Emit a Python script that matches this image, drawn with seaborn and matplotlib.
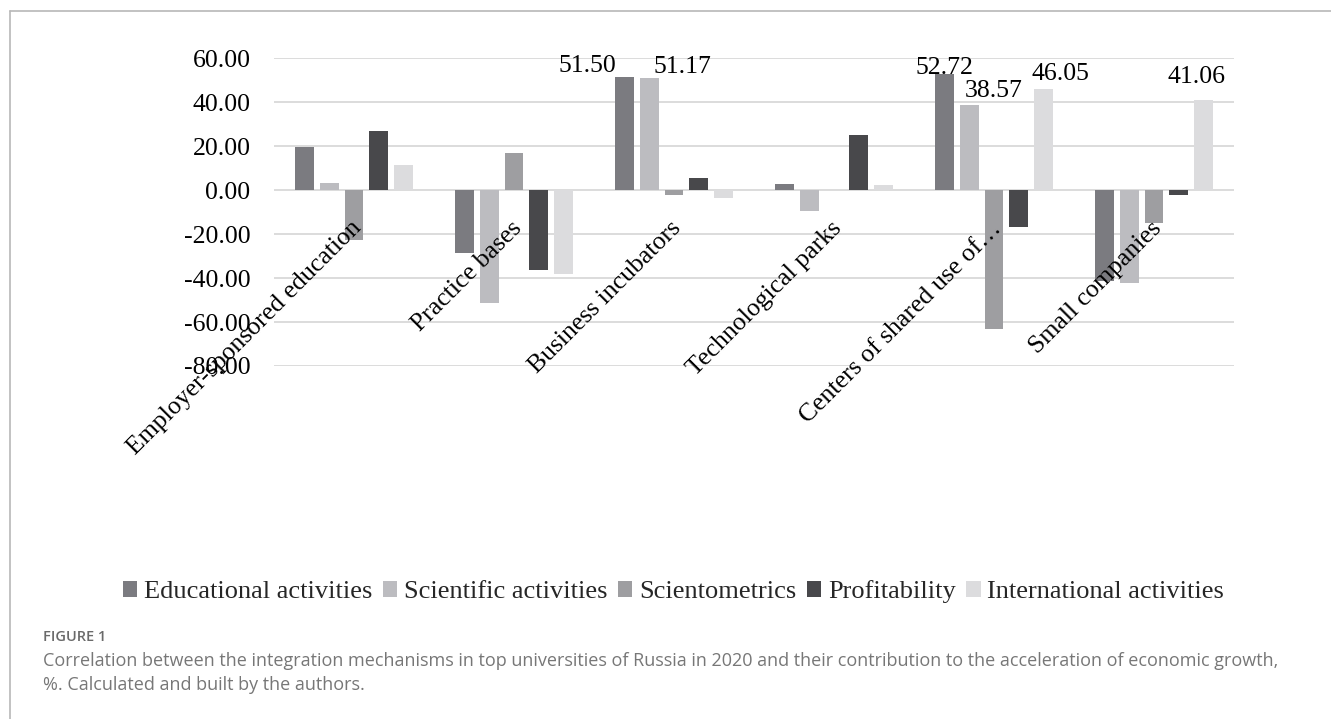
import numpy as np
import pandas as pd
import seaborn as sns
import matplotlib
matplotlib.use("Agg")
import matplotlib.pyplot as plt
from matplotlib.patches import Patch
from matplotlib.lines import Line2D
from matplotlib.ticker import FormatStrFormatter, FixedLocator
from matplotlib.transforms import ScaledTranslation

# ---------------- data ----------------
categories = ["Employer-sponsored education", "Practice bases", "Business incubators",
              "Technological parks", "Centers of shared use of\u2026", "Small companies"]
series_names = ["Educational activities", "Scientific activities", "Scientometrics",
                "Profitability", "International activities"]
educational = [19.8, -28.5, 51.50, 2.7, 52.72, -41.5]
scientific = [3.2, -51.4, 51.17, -9.6, 38.57, -42.1]
scientometrics = [-22.8, 17.0, -2.2, 0.0, -63.2, -14.9]
profitability = [27.0, -36.5, 5.7, 25.1, -16.7, -2.3]
international = [11.4, -38.0, -3.7, 2.3, 46.05, 41.06]
y_ticks = [-80, -60, -40, -20, 0, 20, 40, 60]
# bars that carry a value label: (series index, category index)
labelled = [(0, 2), (1, 2), (0, 4), (1, 4), (4, 4), (4, 5)]

# ---------------- styles ----------------
colors = ["#7b7b80", "#bcbcc0", "#9e9ea1", "#48484b", "#dcdcde"]
label_offsets_px = [(-37, 5), (33, 5), (0, 0), (24, 8), (17, 9), (-7, 17)]

W, H, DPI = 1331, 719, 100
sns.set_theme(style="white")
plt.rcParams["font.family"] = ["Liberation Serif", "DejaVu Serif"]
plt.rcParams["axes.unicode_minus"] = False

all_vals = [educational, scientific, scientometrics, profitability, international]
df = pd.DataFrame({
    "mechanism": [c for s in all_vals for c in categories],
    "indicator": [n for n, s in zip(series_names, all_vals) for _ in s],
    "value": [v for s in all_vals for v in s],
})

fig = plt.figure(figsize=(W / DPI, H / DPI), dpi=DPI)
ax = fig.add_axes([274 / W, 1 - 366 / H, 960 / W, (366 - 58.3) / H])

sns.barplot(data=df, x="mechanism", y="value", hue="indicator", order=categories,
            hue_order=series_names, palette=colors, saturation=1, width=0.773, gap=0.232,
            errorbar=None, linewidth=0, ax=ax, legend=False, zorder=3)

ax.set_ylim(-80, 60)
ax.set_xlim(-0.5, len(categories) - 0.5)
ax.yaxis.set_major_locator(FixedLocator(y_ticks))
ax.yaxis.set_major_formatter(FormatStrFormatter("%.2f"))
ax.set_xlabel("")
ax.set_ylabel("")
ax.grid(False)
for yt in y_ticks:
    ax.axhline(yt, color="#d9d9d9", linewidth=1.3, zorder=1)
for s in ["top", "right", "left", "bottom"]:
    ax.spines[s].set_visible(False)
ax.spines["bottom"].set_position(("data", 0))
ax.xaxis.set_zorder(6)
ax.yaxis.set_zorder(6)
ax.tick_params(axis="y", length=0, pad=17, labelsize=18.5, labelcolor="black")
ax.tick_params(axis="x", length=0, pad=25, labelsize=18.5, labelcolor="black")
shift = ScaledTranslation(4 / DPI, 0, fig.dpi_scale_trans)
for lab in ax.get_xticklabels():
    lab.set_rotation(45)
    lab.set_rotation_mode("anchor")
    lab.set_ha("right")
    lab.set_va("center")
    lab.set_transform(lab.get_transform() + shift)

# value labels
for (si, ci), (dx, dy) in zip(labelled, label_offsets_px):
    bar = ax.containers[si][ci]
    xc = bar.get_x() + bar.get_width() / 2
    yv = bar.get_height()
    ax.annotate(f"{all_vals[si][ci]:.2f}", xy=(xc, yv), xytext=(dx, dy),
                textcoords="offset pixels", ha="center", va="baseline",
                fontsize=18.5, color="black", zorder=7)

# legend
handles = [Patch(facecolor=c, edgecolor="none") for c in colors]
fig.legend(handles, series_names, loc="center", bbox_to_anchor=(0.506, 1 - 592 / H),
           ncol=5, frameon=False, fontsize=19, handlelength=0.55, handleheight=0.55,
           handletextpad=0.25, columnspacing=0.4, borderpad=0, borderaxespad=0)

# frame lines
fx, fy = 9.7 / W, 1 - 11 / H
fig.add_artist(Line2D([fx, fx], [0, fy], transform=fig.transFigure, color="#b8b8b8", lw=1.2))
fig.add_artist(Line2D([fx, 1], [fy, fy], transform=fig.transFigure, color="#b8b8b8", lw=1.2))

# caption
fig.text(43 / W, 1 - 637 / H, "FIGURE 1", fontsize=10.5, color="#6a6a6a",
         family=["Open Sans", "DejaVu Sans"], weight="semibold", va="center")
fig.text(43 / W, 1 - 661 / H,
         "Correlation between the integration mechanisms in top universities of Russia in 2020 "
         "and their contribution to the acceleration of economic growth,",
         fontsize=13, color="#777777", family=["Open Sans", "DejaVu Sans"], va="center")
fig.text(43 / W, 1 - 685 / H, "%. Calculated and built by the authors.",
         fontsize=13, color="#777777", family=["Open Sans", "DejaVu Sans"], va="center")

fig.savefig("out.png", dpi=DPI)
